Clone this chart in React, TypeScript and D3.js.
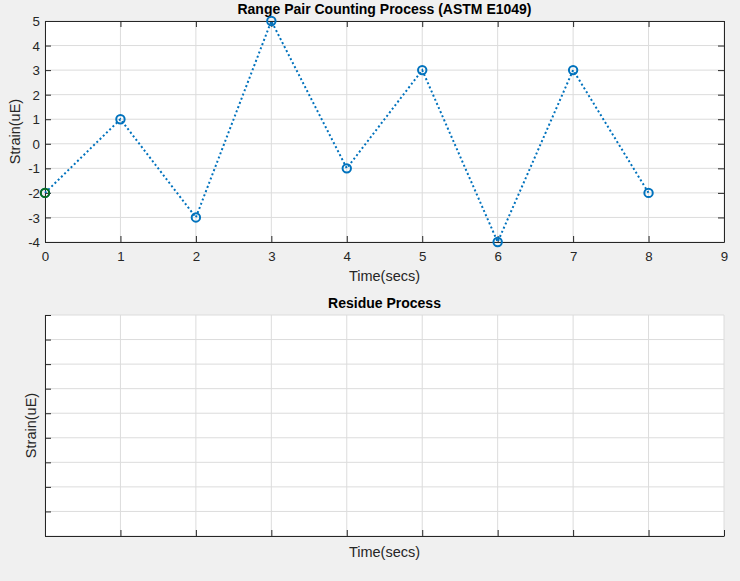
import React, { useEffect, useRef } from "react";
import * as d3 from "d3";

const times = [0, 1, 2, 3, 4, 5, 6, 7, 8];
const strain = [-2, 1, -3, 5, -1, 3, -4, 3, -2];
const xTicks = [0, 1, 2, 3, 4, 5, 6, 7, 8, 9];
const yTicks = [-4, -3, -2, -1, 0, 1, 2, 3, 4, 5];
const xDomain = [0, 9];
const yDomain = [-4, 5];
const titles = ["Range Pair Counting Process (ASTM E1049)", "Residue Process"];
const xLabel = "Time(secs)";
const yLabel = "Strain(uE)";

const W = 740;
const H = 581;
const FONT = "'Liberation Sans', Arial, Helvetica, sans-serif";
const AX = "#262626";
const GRID = "#dcdcdc";
const BLUE = "#0072BD";

export default function App() {
  const ref = useRef<SVGSVGElement | null>(null);

  useEffect(() => {
    const svg = d3.select(ref.current);
    svg.selectAll("*").remove();

    const left = 45, right = 724;
    const panels = [
      { top: 21, bottom: 242, labels: true, data: true },
      { top: 315, bottom: 536, labels: false, data: false },
    ];

    panels.forEach((p, i) => {
      const x = d3.scaleLinear().domain(xDomain).range([left, right]);
      const y = d3.scaleLinear().domain(yDomain).range([p.bottom, p.top]);
      const g = svg.append("g");

      g.append("rect")
        .attr("x", left).attr("y", p.top)
        .attr("width", right - left).attr("height", p.bottom - p.top)
        .attr("fill", "#ffffff");

      // grid
      g.append("g").selectAll("line").data(xTicks).join("line")
        .attr("x1", (d) => x(d)).attr("x2", (d) => x(d))
        .attr("y1", p.top).attr("y2", p.bottom)
        .attr("stroke", GRID).attr("stroke-width", 1);
      g.append("g").selectAll("line").data(yTicks).join("line")
        .attr("x1", left).attr("x2", right)
        .attr("y1", (d) => y(d)).attr("y2", (d) => y(d))
        .attr("stroke", GRID).attr("stroke-width", 1);

      const fmt = (d: any) => (p.labels ? String(d) : "");
      const xAxis = d3.axisBottom(x).tickValues(xTicks).tickSizeInner(-6).tickSizeOuter(0).tickFormat(fmt);
      const yAxis = d3.axisLeft(y).tickValues(yTicks).tickSizeInner(-6).tickSizeOuter(0).tickFormat(fmt);

      const gx = g.append("g").attr("transform", `translate(0,${p.bottom})`).call(xAxis);
      const gy = g.append("g").attr("transform", `translate(${left},0)`).call(yAxis);
      [gx, gy].forEach((ga) => {
        ga.select(".domain").attr("stroke", AX).attr("stroke-width", 1);
        ga.selectAll(".tick line").attr("stroke", AX);
        ga.selectAll(".tick text").attr("fill", AX).attr("font-family", FONT).attr("font-size", 13.3);
      });
      gx.selectAll(".tick text").attr("dy", "0").attr("y", 19);
      gy.selectAll(".tick text").attr("x", -5).attr("dy", "0.35em");

      if (p.labels) {
        const xTop = d3.axisTop(x).tickValues(xTicks).tickSizeInner(-6).tickSizeOuter(0).tickFormat(() => "");
        const yRight = d3.axisRight(y).tickValues(yTicks).tickSizeInner(-6).tickSizeOuter(0).tickFormat(() => "");
        const gt = g.append("g").attr("transform", `translate(0,${p.top})`).call(xTop);
        const gr = g.append("g").attr("transform", `translate(${right},0)`).call(yRight);
        [gt, gr].forEach((ga) => {
          ga.select(".domain").attr("stroke", AX);
          ga.selectAll(".tick line").attr("stroke", AX);
        });
      }

      g.append("text").attr("x", (left + right) / 2).attr("y", p.top - 7)
        .attr("text-anchor", "middle").attr("font-family", FONT).attr("font-size", 14)
        .attr("font-weight", "bold").attr("fill", "#000").text(titles[i]);
      g.append("text").attr("x", (left + right) / 2).attr("y", p.labels ? p.bottom + 39 : p.bottom + 21)
        .attr("text-anchor", "middle").attr("font-family", FONT).attr("font-size", 14.5)
        .attr("fill", AX).text(xLabel);
      const ly = (p.top + p.bottom) / 2;
      const lx = p.labels ? 20 : 36;
      g.append("text").attr("transform", `translate(${lx},${ly}) rotate(-90)`)
        .attr("text-anchor", "middle").attr("font-family", FONT).attr("font-size", 14.5)
        .attr("fill", AX).text(yLabel);

      if (p.data) {
        const line = d3.line<number>().x((_, k) => x(times[k])).y((d) => y(d));
        g.append("path").attr("d", line(strain) || "")
          .attr("fill", "none").attr("stroke", BLUE).attr("stroke-width", 2)
          .attr("stroke-dasharray", "2,2.5");
        g.append("g").selectAll("circle").data(strain).join("circle")
          .attr("cx", (_, k) => x(times[k])).attr("cy", (d) => y(d)).attr("r", 4.2)
          .attr("fill", "none").attr("stroke", BLUE).attr("stroke-width", 2);
        g.append("circle").attr("cx", x(times[0])).attr("cy", y(strain[0])).attr("r", 4.2)
          .attr("fill", "none").attr("stroke", "#0b6e1e").attr("stroke-width", 2);
      }
    });
  }, []);

  return (
    <svg ref={ref} width={W} height={H}
      style={{ position: "absolute", left: 0, top: 0, background: "#f0f0f0", display: "block" }} />
  );
}
